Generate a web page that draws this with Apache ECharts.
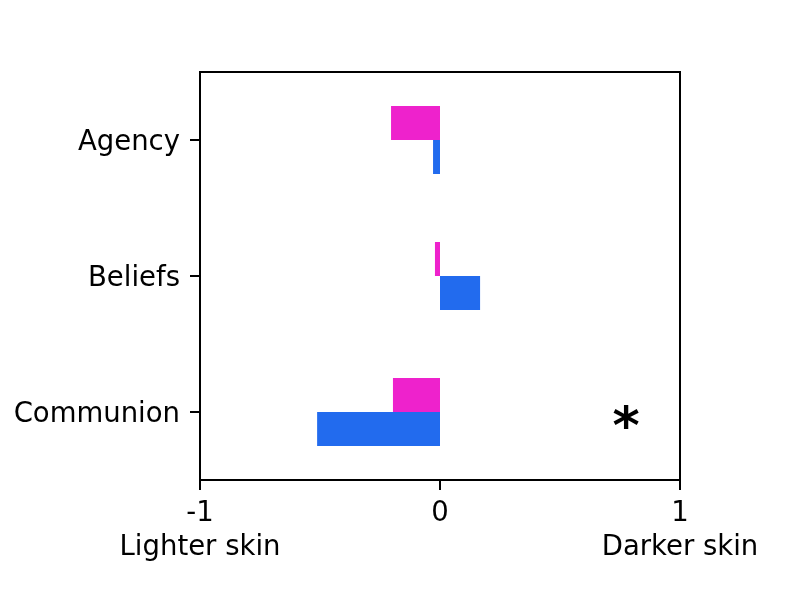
<!DOCTYPE html>
<html>
<head>
<meta charset="utf-8">
<script src="https://cdn.jsdelivr.net/npm/echarts@6/dist/echarts.min.js"></script>
<style>html,body{margin:0;padding:0;background:#fff}#c{width:800px;height:600px}</style>
</head>
<body>
<div id="c"></div>
<script>
const categories = ['Agency', 'Beliefs', 'Communion'];
const magentaValues = [-0.204, -0.021, -0.196];
const blueValues = [-0.029, 0.167, -0.512];
const xTicks = [-1, 0, 1];
const xTickCaptions = {'-1': 'Lighter skin', '0': '', '1': 'Darker skin'};
const annotation = {x: 0.775, category: 'Communion', text: '*'};

const FONT = 'DejaVu Sans';
const chart = echarts.init(document.getElementById('c'), null, {renderer: 'canvas'});
chart.setOption({
  animation: false,
  backgroundColor: '#fff',
  textStyle: {fontFamily: FONT},
  grid: {left: 200, right: 120, top: 72, bottom: 120, show: true, borderColor: '#000', borderWidth: 2, backgroundColor: 'transparent'},
  xAxis: {
    type: 'value', min: xTicks[0], max: xTicks[xTicks.length - 1], interval: 1,
    splitLine: {show: false},
    axisLine: {show: true, onZero: false, lineStyle: {color: '#000', width: 2}},
    axisTick: {show: true, length: 10, lineStyle: {color: '#000', width: 2}},
    axisLabel: {
      color: '#000', fontSize: 27.5, fontFamily: FONT, margin: 17, lineHeight: 34,
      showMinLabel: true, showMaxLabel: true,
      formatter: v => { const c = xTickCaptions[String(v)]; return c ? v + '\n' + c : String(v) + '\n '; }
    }
  },
  yAxis: {
    type: 'category', data: categories, inverse: true,
    axisLine: {show: true, onZero: false, lineStyle: {color: '#000', width: 2}},
    axisTick: {show: true, length: 10, alignWithLabel: true, interval: 0, lineStyle: {color: '#000', width: 2}},
    axisLabel: {color: '#000', fontSize: 27.5, fontFamily: FONT, margin: 20, interval: 0, verticalAlign: 'top', lineHeight: 6},
    splitLine: {show: false}
  },
  series: [
    {type: 'bar', data: magentaValues, barWidth: 34, barGap: '0%', itemStyle: {color: '#ee22cc'}},
    {type: 'bar', data: blueValues, barWidth: 34, barGap: '0%', itemStyle: {color: '#226bee'},
      markPoint: {
        symbol: 'circle', symbolSize: 0,
        data: [{coord: [annotation.x, annotation.category], value: annotation.text}],
        label: {show: true, position: 'inside', formatter: annotation.text, color: '#000', fontSize: 52, fontWeight: 'bold', fontFamily: FONT}
      }
    }
  ]
});
</script>
</body>
</html>
